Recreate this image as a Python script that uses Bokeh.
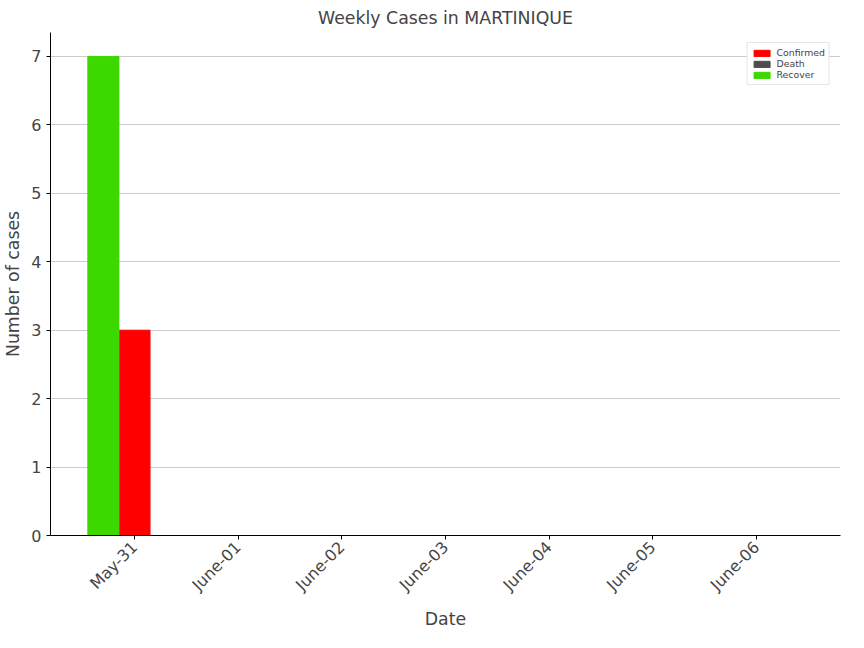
from bokeh.plotting import figure
from bokeh.models import ColumnDataSource, Range1d, Legend, LegendItem, FixedTicker
from bokeh.embed import file_html
from bokeh.resources import INLINE
import math

dates = ["May-31", "June-01", "June-02", "June-03", "June-04", "June-05", "June-06"]
confirmed = [3, 0, 0, 0, 0, 0, 0]
death = [0, 0, 0, 0, 0, 0, 0]
recover = [7, 0, 0, 0, 0, 0, 0]

x = list(range(len(dates)))
w = 0.3
p = figure(width=848, height=632, output_backend="svg", toolbar_location=None,
           x_range=Range1d(-0.81, 6.81), y_range=Range1d(0, 7.35),
           title="Weekly Cases in MARTINIQUE", min_border_left=42, min_border_right=8,
           min_border_top=10, min_border_bottom=10)
p.title.align = "center"
p.title.text_font_size = "13pt"
p.title.text_font_style = "normal"
p.title.text_font = "DejaVu Sans"

src = ColumnDataSource(dict(x=x, xr=[v - w for v in x], xd=[v + w for v in x],
                            c=confirmed, d=death, r=recover))
rc = p.vbar(x="x", top="c", width=w, source=src, color="#ff0000")
rd = p.vbar(x="xd", top="d", width=w, source=src, color="#4d4d4d")
rr = p.vbar(x="xr", top="r", width=w, source=src, color="#3cd900")

leg = Legend(items=[LegendItem(label="Confirmed", renderers=[rc]),
                    LegendItem(label="Death", renderers=[rd]),
                    LegendItem(label="Recover", renderers=[rr])],
             location="top_right", label_text_font_size="7pt", glyph_height=8, glyph_width=20,
             spacing=0, padding=4, label_height=10, border_line_color="#cccccc",
             label_text_font="DejaVu Sans")
p.add_layout(leg)

p.xaxis.ticker = FixedTicker(ticks=x)
p.xaxis.major_label_overrides = {i: d for i, d in enumerate(dates)}
p.xaxis.major_label_orientation = math.pi / 4
p.yaxis.ticker = FixedTicker(ticks=list(range(8)))
for ax in (p.xaxis, p.yaxis):
    ax.major_label_text_font_size = "12pt"
    ax.axis_label_text_font_size = "13pt"
    ax.axis_label_text_font_style = "normal"
    ax.major_label_text_font = "DejaVu Sans"
    ax.axis_label_text_font = "DejaVu Sans"
    ax.minor_tick_line_color = None
    ax.major_tick_in = 0
    ax.major_tick_out = 4
    ax.axis_line_color = "black"
p.xaxis.axis_label = "Date"
p.yaxis.axis_label = "Number of cases"
p.xgrid.grid_line_color = None
p.ygrid.grid_line_color = "#cccccc"
p.outline_line_color = None

open("out.html", "w").write(file_html(p, INLINE))
